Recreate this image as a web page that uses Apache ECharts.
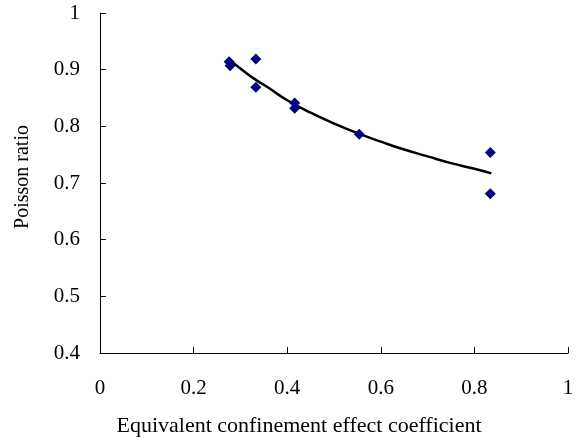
<!DOCTYPE html>
<html>
<head>
<meta charset="utf-8">
<script src="https://cdn.jsdelivr.net/npm/echarts@6/dist/echarts.min.js"></script>
<style>html,body{margin:0;padding:0;background:#fff;}#c{width:580px;height:442px;}</style>
</head>
<body>
<div id="c"></div>
<script>
// Measured data points (confinement coefficient, Poisson ratio)
var pointX = [0.276, 0.278, 0.333, 0.333, 0.416, 0.416, 0.554, 0.834, 0.834];
var pointY = [0.914, 0.907, 0.919, 0.869, 0.841, 0.832, 0.786, 0.754, 0.681];
// Trend curve
var curveX = [0.276, 0.30, 0.333, 0.36, 0.40, 0.45, 0.50, 0.55, 0.60, 0.65, 0.70, 0.75, 0.80, 0.836];
var curveY = [0.918, 0.902, 0.882, 0.868, 0.846, 0.824, 0.805, 0.788, 0.773, 0.759, 0.747, 0.735, 0.725, 0.717];
var xTicks = [0, 0.2, 0.4, 0.6, 0.8, 1];
var yTicks = [0.4, 0.5, 0.6, 0.7, 0.8, 0.9, 1];

var font = 'Liberation Serif';
var chart = echarts.init(document.getElementById('c'), null, {renderer: 'canvas'});
chart.setOption({
  animation: false,
  backgroundColor: '#fff',
  grid: {left: 100, right: 12, top: 13, bottom: 89},
  xAxis: {
    type: 'value', min: xTicks[0], max: xTicks[xTicks.length - 1], interval: 0.2,
    name: 'Equivalent confinement effect coefficient',
    nameLocation: 'middle', nameGap: 62,
    nameTextStyle: {fontFamily: font, fontSize: 22, color: '#000', padding: [0, 70, 0, 0]},
    axisLine: {onZero: false, lineStyle: {color: '#000', width: 1}},
    axisTick: {inside: true, length: 6, lineStyle: {color: '#000'}},
    axisLabel: {margin: 25, fontFamily: font, fontSize: 21, color: '#000',
      formatter: function (v) { return String(+v.toFixed(1)); }},
    splitLine: {show: false}
  },
  yAxis: {
    type: 'value', min: yTicks[0], max: yTicks[yTicks.length - 1], interval: 0.1,
    name: 'Poisson ratio',
    nameLocation: 'middle', nameGap: 67, nameRotate: 90,
    nameTextStyle: {fontFamily: font, fontSize: 20, color: '#000', padding: [0, 0, 0, 12]},
    axisLine: {onZero: false, lineStyle: {color: '#000', width: 1}},
    axisTick: {inside: true, length: 6, lineStyle: {color: '#000'}},
    axisLabel: {margin: 20, fontFamily: font, fontSize: 21, color: '#000',
      formatter: function (v) { return String(+v.toFixed(1)); }},
    splitLine: {show: false}
  },
  series: [
    {
      type: 'line',
      data: curveX.map(function (x, i) { return [x, curveY[i]]; }),
      smooth: true, showSymbol: false, symbol: 'none',
      lineStyle: {color: '#000', width: 2.5}, z: 2
    },
    {
      type: 'scatter',
      data: pointX.map(function (x, i) { return [x, pointY[i]]; }),
      symbol: 'diamond', symbolSize: 11,
      itemStyle: {color: '#000080', opacity: 1}, z: 3
    }
  ]
});
</script>
</body>
</html>
